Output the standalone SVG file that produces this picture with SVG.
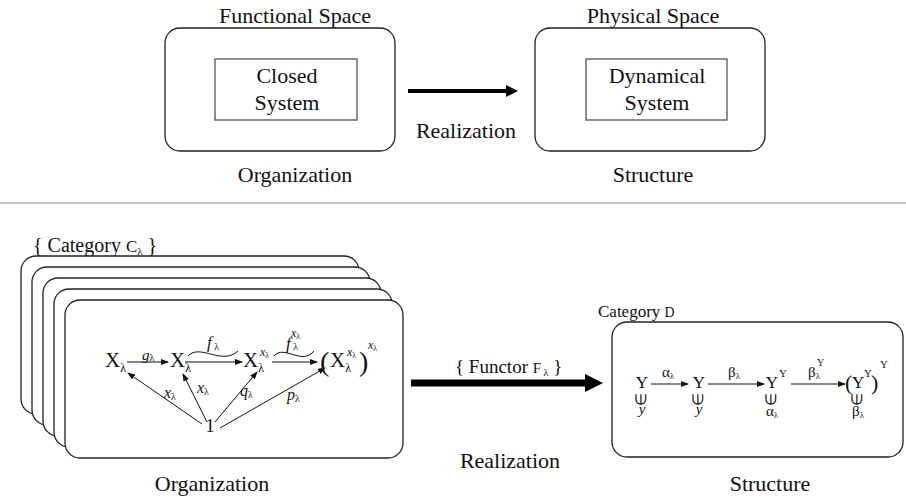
<svg xmlns="http://www.w3.org/2000/svg" width="906" height="500" viewBox="0 0 906 500" font-family="Liberation Serif, Times New Roman, serif">
<style>
text{font-family:"Liberation Serif","Times New Roman",serif;fill:#111}
.t22{font-size:22px}
.mid{text-anchor:middle}
.box{fill:#fff;stroke:#222;stroke-width:1.3}
.inner{fill:#fff;stroke:#444;stroke-width:1.2}
.ln{stroke:#111;stroke-width:1;fill:none}
.it{font-style:italic}
</style>
<defs>
<marker id="ah" markerWidth="8" markerHeight="6" refX="7" refY="3" orient="auto" markerUnits="userSpaceOnUse">
<path d="M0,0 L8,3 L0,6 Z" fill="#111"/>
</marker>
</defs>
<rect width="906" height="500" fill="#fff"/>

<!-- Top part -->
<g id="functional-space">
<text class="t22 mid" x="295" y="23">Functional Space</text>
<rect class="box" x="165" y="28" width="230" height="123" rx="15"/>
<rect class="inner" x="215" y="59" width="142" height="61"/>
<text class="t22 mid" x="287" y="83">Closed</text>
<text class="t22 mid" x="287" y="110">System</text>
<text class="t22 mid" x="295" y="182">Organization</text>
</g>
<g id="physical-space">
<text class="t22 mid" x="653" y="23">Physical Space</text>
<rect class="box" x="535" y="28" width="230" height="123" rx="15"/>
<rect class="inner" x="586" y="59" width="141" height="61"/>
<text class="t22 mid" x="657" y="83">Dynamical</text>
<text class="t22 mid" x="657" y="110">System</text>
<text class="t22 mid" x="653" y="182">Structure</text>
</g>
<g id="realization-top">
<text class="t22 mid" x="466" y="138">Realization</text>
</g>
<line x1="0" y1="203" x2="906" y2="203" stroke="#888" stroke-width="1"/>

<!-- Bottom left: stack of categories -->
<g id="category-c">
<text x="33" y="252" style="font-size:20px">{ Category <tspan style="font-size:17px">C</tspan><tspan style="font-size:11px" dy="3">λ</tspan><tspan dy="-3"> }</tspan></text>
<rect class="box" x="21" y="256" width="338" height="158" rx="15"/>
<rect class="box" x="32" y="267" width="338" height="158" rx="15"/>
<rect class="box" x="43" y="278" width="338" height="158" rx="15"/>
<rect class="box" x="54" y="289" width="338" height="158" rx="15"/>
<rect class="box" x="65" y="300" width="338" height="158" rx="15"/>
<text class="t22 mid" x="212" y="491">Organization</text>
</g>

<!-- Bottom right: Category D container -->
<g id="category-d">
<text x="598" y="317" style="font-size:17px">Category <tspan style="font-size:14px">D</tspan></text>
<rect class="box" x="612" y="322" width="291" height="135" rx="15"/>
<text class="t22 mid" x="770" y="491">Structure</text>
</g>

<g id="functor">
<text x="455" y="373" style="font-size:19px">{ Functor <tspan style="font-size:15px">F</tspan><tspan style="font-size:10px" dy="3"> λ</tspan><tspan dy="-3"> }</tspan></text>
<text class="t22 mid" x="510" y="468">Realization</text>
</g>

<g id="connectors">
<line x1="408" y1="91" x2="508" y2="91" stroke="#000" stroke-width="4"/>
<polygon points="506,85 518,91 506,97" fill="#000"/>
<line x1="411" y1="383" x2="587" y2="383" stroke="#000" stroke-width="7"/>
<polygon points="585,374 603,383 585,392" fill="#000"/>
<line class="ln" x1="127" y1="362" x2="168" y2="362" marker-end="url(#ah)"/>
<line class="ln" x1="185" y1="362" x2="242" y2="362" marker-end="url(#ah)"/>
<path class="ln" d="M188,356 C200,343 222,366 238,351"/>
<line class="ln" x1="272" y1="362" x2="317" y2="362" marker-end="url(#ah)"/>
<path class="ln" d="M274,356 C284,344 302,366 314,351"/>
<line class="ln" x1="202" y1="424" x2="128" y2="373" marker-end="url(#ah)"/>
<line class="ln" x1="207" y1="422" x2="183" y2="374" marker-end="url(#ah)"/>
<line class="ln" x1="215" y1="422" x2="257" y2="372" marker-end="url(#ah)"/>
<line class="ln" x1="220" y1="428" x2="325" y2="368" marker-end="url(#ah)"/>
<line class="ln" x1="651" y1="384" x2="688" y2="384" marker-end="url(#ah)"/>
<line class="ln" x1="708" y1="384" x2="764" y2="384" marker-end="url(#ah)"/>
<line class="ln" x1="791" y1="384" x2="845" y2="384" marker-end="url(#ah)"/>
</g>

<g id="c-objects" style="font-size:21px">
<text x="105" y="367">X<tspan dy="5" style="font-size:12px">λ</tspan></text>
<text x="170" y="367">X<tspan dy="5" style="font-size:12px">λ</tspan></text>
<text x="243" y="367">X<tspan dy="5" style="font-size:12px">λ</tspan></text>
<text x="260" y="356" class="it" style="font-size:12px">x<tspan style="font-size:8px;font-style:normal" dy="2">λ</tspan></text>
<text x="320" y="371" style="font-size:28px">(</text>
<text x="330" y="367">X<tspan dy="5" style="font-size:12px">λ</tspan></text>
<text x="347" y="356" class="it" style="font-size:12px">x<tspan style="font-size:8px;font-style:normal" dy="2">λ</tspan></text>
<text x="359" y="371" style="font-size:28px">)</text>
<text x="368" y="349" class="it" style="font-size:12px">x<tspan style="font-size:8px;font-style:normal" dy="2">λ</tspan></text>
<text class="mid" x="210" y="432" style="font-size:18px">1</text>
</g>

<g id="c-labels">
<text x="142" y="360" class="it" style="font-size:15px">g<tspan style="font-size:10px;font-style:normal" dy="1">λ</tspan></text>
<text x="207" y="348" class="it" style="font-size:17px">f<tspan style="font-size:10px;font-style:normal" dy="2"> λ</tspan></text>
<text x="286" y="349" class="it" style="font-size:17px">f<tspan style="font-size:10px;font-style:normal" dy="1"> λ</tspan></text>
<text x="291" y="337" class="it" style="font-size:12px">x<tspan style="font-size:8px;font-style:normal" dy="2">λ</tspan></text>
<text x="164" y="398" class="it" style="font-size:16px">x<tspan style="font-size:10px;font-style:normal" dy="2">λ</tspan></text>
<text x="197" y="393" class="it" style="font-size:16px">x<tspan style="font-size:10px;font-style:normal" dy="2">λ</tspan></text>
<text x="240" y="396" class="it" style="font-size:16px">q<tspan style="font-size:10px;font-style:normal" dy="2">λ</tspan></text>
<text x="287" y="400" class="it" style="font-size:16px">p<tspan style="font-size:10px;font-style:normal" dy="2">λ</tspan></text>
</g>

<g id="d-objects" style="font-size:17px">
<text class="mid" x="642" y="388">Y</text>
<text class="mid" x="699" y="388">Y</text>
<text class="mid" x="772" y="388">Y</text>
<text x="779" y="377" style="font-size:11px">Y</text>
<text x="845" y="390" style="font-size:22px">(</text>
<text x="852" y="388">Y</text>
<text x="864" y="377" style="font-size:11px">Y</text>
<text x="871" y="390" style="font-size:22px">)</text>
<text x="880" y="368" style="font-size:11px">Y</text>
<text class="mid" transform="translate(642,399) rotate(-90)" dy="0.25em" style="font-size:15px">∈</text>
<text class="mid" transform="translate(699,399) rotate(-90)" dy="0.25em" style="font-size:15px">∈</text>
<text class="mid" transform="translate(772,399) rotate(-90)" dy="0.25em" style="font-size:15px">∈</text>
<text class="mid" transform="translate(858,399) rotate(-90)" dy="0.25em" style="font-size:15px">∈</text>
<text class="mid it" x="642" y="414" style="font-size:15px">y</text>
<text class="mid it" x="699" y="414" style="font-size:15px">y</text>
<text x="766" y="416" style="font-size:15px">α<tspan style="font-size:9px" dy="2">λ</tspan></text>
<text x="852" y="416" style="font-size:15px">β<tspan style="font-size:9px" dy="2">λ</tspan></text>
</g>
<g id="d-labels">
<text x="662" y="377" style="font-size:15px">α<tspan style="font-size:9px" dy="2">λ</tspan></text>
<text x="728" y="377" style="font-size:15px">β<tspan style="font-size:9px" dy="2">λ</tspan></text>
<text x="808" y="377" style="font-size:15px">β<tspan style="font-size:9px" dy="2">λ</tspan></text>
<text x="817" y="366" style="font-size:10px">Y</text>
</g>
</svg>
